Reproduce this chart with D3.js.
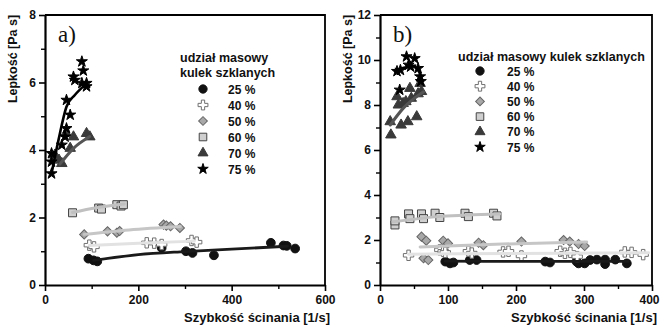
<!DOCTYPE html>
<html lang="pl">
<head>
<meta charset="UTF-8">
<title>Lepkość</title>
<script src="https://d3js.org/d3.v7.min.js"></script>
<style>
  body { margin: 0; background: #fff; }
  text { font-family: "Liberation Sans", Arial, sans-serif; font-weight: bold; fill: #111; }
</style>
</head>
<body>
<div id="chart"></div>
<script>
const W = 661, H = 325;

const seriesLabels = ["25 %", "40 %", "50 %", "60 %", "70 %", "75 %"];

// panel a) measured points [shear rate, viscosity]
const a25 = [[93,0.78],[104,0.73],[112,0.70],[250,1.10],[302,1.0],[316,0.95],[362,0.88],[484,1.25],[511,1.17],[518,1.16],[536,1.08]];
const a40 = [[95,1.18],[105,1.13],[218,1.25],[234,1.24],[250,1.2],[314,1.32],[325,1.27]];
const a50 = [[84,1.50],[134,1.59],[154,1.55],[160,1.6],[254,1.79],[260,1.76],[269,1.74],[289,1.69]];
const a60 = [[59,2.14],[115,2.28],[121,2.25],[154,2.38],[163,2.34],[168,2.38]];
const a70 = [[21,3.85],[30,3.7],[36,3.6],[45,4.5],[54,4.05],[61,4.39],[89,4.49],[96,4.39]];
const a75 = [[14,3.3],[14,3.65],[14,3.9],[36,4.15],[43,4.39],[46,4.64],[54,5.04],[46,5.48],[61,6.17],[64,6.07],[79,5.98],[79,6.62],[82,6.35],[89,5.98],[89,5.88]];

// panel a) fitted curves
const aFit25 = [[104,0.73],[200,0.90],[300,0.99],[400,1.06],[520,1.15]];
const aFit40 = [[95,1.17],[200,1.24],[320,1.30]];
const aFit50 = [[84,1.50],[180,1.63],[290,1.73]];
const aFit60 = [[59,2.15],[110,2.29],[170,2.40]];
const aFit70 = [[32,3.58],[61,4.05],[96,4.40]];
const aFit75 = [[14,3.3],[29,4.3],[46,5.28],[64,5.63],[86,5.93]];

// panel b) measured points
const b25 = [[96,1.04],[103,0.96],[108,1.0],[132,1.11],[142,1.11],[243,1.04],[250,1.0],[289,1.04],[292,0.96],[301,0.96],[309,1.11],[319,1.13],[331,1.13],[331,0.93],[346,1.13],[363,0.96]];
const b40 = [[42,1.32],[88,1.56],[93,1.5],[96,1.45],[130,1.5],[135,1.42],[181,1.47],[189,1.5],[208,1.29],[265,1.5],[272,1.41],[280,1.45],[290,1.26],[360,1.47],[370,1.45],[387,1.35]];
const b50 = [[61,2.15],[68,1.97],[64,1.19],[71,1.11],[93,1.97],[100,1.85],[145,1.88],[152,1.77],[208,1.93],[270,2.0],[279,1.93],[292,1.82],[301,1.73]];
const b60 = [[22,2.67],[22,2.85],[42,3.16],[44,2.95],[61,3.16],[64,2.95],[81,3.19],[88,3.0],[125,3.19],[130,3.04],[167,3.19],[172,3.07]];
const b70 = [[15,7.26],[16,6.67],[31,7.11],[41,7.26],[54,7.48],[27,8.0],[34,8.07],[25,8.37],[38,8.15],[44,8.74],[59,8.96],[61,8.6],[56,8.5],[46,8.3]];
const b75 = [[25,9.5],[30,9.55],[39,10.15],[42,9.78],[45,9.7],[51,10.07],[56,9.63],[59,9.26],[60,9.05],[29,8.67]];

// panel b) fitted curves
const bFit25 = [[96,1.06],[230,1.05],[365,1.05]];
const bFit40 = [[42,1.37],[200,1.40],[395,1.43]];
const bFit50 = [[59,1.69],[180,1.82],[304,1.91]];
const bFit60 = [[19,2.81],[90,3.05],[176,3.16]];
const bFit70 = [[15,7.11],[34,7.85],[64,8.59]];
const bFit75 = [[22,9.5],[35,9.65],[48,9.72],[58,9.45],[62,9.1]];

const styles = [
  { sym: d3.symbolCircle,   size: 60, rot: 0,  fill: "#111",    stroke: "#111",    line: "#1a1a1a", lw: 2.8 },
  { sym: d3.symbolCross,    size: 60, rot: 0,  fill: "#ffffff", stroke: "#707070", line: "#e2e2e2", lw: 3 },
  { sym: d3.symbolSquare,   size: 42, rot: 45, fill: "#a8a8a8", stroke: "#666",    line: "#c6c6c6", lw: 3 },
  { sym: d3.symbolSquare,   size: 64, rot: 0,  fill: "#cfcfcf", stroke: "#444",    line: "#c0c0c0", lw: 3 },
  { sym: d3.symbolTriangle, size: 48, rot: 0,  fill: "#3a3a3a", stroke: "#3a3a3a", line: "#555",    lw: 3 },
  { sym: d3.symbolStar,     size: 38, rot: 0,  fill: "#000",    stroke: "#000",    line: "#000",    lw: 2.6 }
];

const panels = [
  { tag: "a)", left: 45, right: 325, xMax: 600, xMajor: 200, yMax: 8,
    pts: [a25, a40, a50, a60, a70, a75], fits: [aFit25, aFit40, aFit50, aFit60, aFit70, aFit75],
    legend: { titleX: 180, titleY: [62, 77], symX: 203, textX: 228, y0: 89, dy: 16, oneLine: false, fs: 12.5 } },
  { tag: "b)", left: 380, right: 652, xMax: 400, xMajor: 100, yMax: 12,
    pts: [b25, b40, b50, b60, b70, b75], fits: [bFit25, bFit40, bFit50, bFit60, bFit70, bFit75],
    legend: { titleX: 458, titleY: [61], symX: 480, textX: 507, y0: 71, dy: 15.2, oneLine: true, fs: 12.5 } }
];

const plotTop = 15, plotBottom = 285;

const svg = d3.select("#chart").append("svg")
  .attr("width", W).attr("height", H);

panels.forEach(p => {
  const x = d3.scaleLinear().domain([0, p.xMax]).range([p.left, p.right]);
  const y = d3.scaleLinear().domain([0, p.yMax]).range([plotBottom, plotTop]);
  const g = svg.append("g");

  // frame (top, right)
  g.append("path")
    .attr("d", `M${p.left},${plotTop}H${p.right}V${plotBottom}`)
    .attr("fill", "none").attr("stroke", "#000").attr("stroke-width", 1.8);

  // minor ticks
  const xMinor = d3.range(p.xMajor / 2, p.xMax, p.xMajor);
  const yMinor = d3.range(1, p.yMax, 2);
  g.append("g").attr("transform", `translate(0,${plotBottom})`)
    .call(d3.axisBottom(x).tickValues(xMinor).tickSize(4).tickFormat(""))
    .call(s => s.select(".domain").remove())
    .selectAll("line").attr("stroke-width", 1.4);
  g.append("g").attr("transform", `translate(${p.left},0)`)
    .call(d3.axisLeft(y).tickValues(yMinor).tickSize(4).tickFormat(""))
    .call(s => s.select(".domain").remove())
    .selectAll("line").attr("stroke-width", 1.4);

  // major axes
  const xAx = g.append("g").attr("transform", `translate(0,${plotBottom})`)
    .call(d3.axisBottom(x).tickValues(d3.range(0, p.xMax + 1, p.xMajor)).tickSize(6).tickSizeOuter(0).tickPadding(4));
  const yAx = g.append("g").attr("transform", `translate(${p.left},0)`)
    .call(d3.axisLeft(y).tickValues(d3.range(0, p.yMax + 1, 2)).tickSize(6).tickSizeOuter(0).tickPadding(3));
  [xAx, yAx].forEach(a => {
    a.select(".domain").attr("stroke-width", 2.2);
    a.selectAll("line").attr("stroke-width", 1.6);
    a.selectAll("text").attr("font-size", 12).attr("font-family", "Liberation Sans, Arial, sans-serif")
      .attr("font-weight", "bold").attr("fill", "#111");
  });
  // keep the last x label inside the picture
  if (p.right + 12 > W) {
    xAx.selectAll(".tick").filter(d => d === p.xMax).select("text")
      .attr("text-anchor", "end").attr("dx", W - 2 - p.right);
  }

  // axis titles
  g.append("text")
    .attr("transform", `translate(${p.left - 28},59) rotate(-90)`)
    .attr("text-anchor", "middle").attr("font-size", 12.5)
    .text("Lepkość [Pa s]");
  g.append("text")
    .attr("x", p.right + 5).attr("y", 322)
    .attr("text-anchor", "end").attr("font-size", 13)
    .text("Szybkość ścinania [1/s]");

  // panel tag
  g.append("text")
    .attr("x", p.left + 13).attr("y", 42)
    .style("font-family", "'Liberation Serif', 'DejaVu Serif', serif")
    .style("font-weight", "normal")
    .attr("font-size", 23)
    .text(p.tag);

  // points
  p.pts.forEach((arr, i) => {
    const st = styles[i];
    g.append("g").selectAll("path").data(arr).enter().append("path")
      .attr("transform", d => `translate(${x(d[0])},${y(d[1])}) rotate(${st.rot})`)
      .attr("d", d3.symbol().type(st.sym).size(st.size))
      .attr("fill", st.fill).attr("stroke", st.stroke).attr("stroke-width", 1);
  });

  // fitted curves
  const line = d3.line().x(d => x(d[0])).y(d => y(d[1])).curve(d3.curveMonotoneX);
  p.fits.forEach((arr, i) => {
    const pts = arr.slice().sort((u, v) => u[0] - v[0]);
    g.append("path").attr("d", line(pts))
      .attr("fill", "none").attr("stroke", styles[i].line)
      .attr("stroke-width", styles[i].lw).attr("stroke-linecap", "round");
  });

  // legend
  const L = p.legend;
  const titleLines = L.oneLine ? ["udział masowy kulek szklanych"] : ["udział masowy", "kulek szklanych"];
  titleLines.forEach((t, k) => {
    g.append("text").attr("x", L.titleX).attr("y", L.titleY[k])
      .attr("font-size", L.fs).text(t);
  });
  seriesLabels.forEach((lab, i) => {
    const st = styles[i];
    const cy = L.y0 + i * L.dy;
    g.append("path")
      .attr("transform", `translate(${L.symX},${cy}) rotate(${st.rot})`)
      .attr("d", d3.symbol().type(st.sym).size(st.size * 0.9))
      .attr("fill", st.fill).attr("stroke", st.stroke).attr("stroke-width", 1);
    g.append("text").attr("x", L.textX).attr("y", cy + 4.5)
      .attr("font-size", 12).text(lab);
  });
});
</script>
</body>
</html>
